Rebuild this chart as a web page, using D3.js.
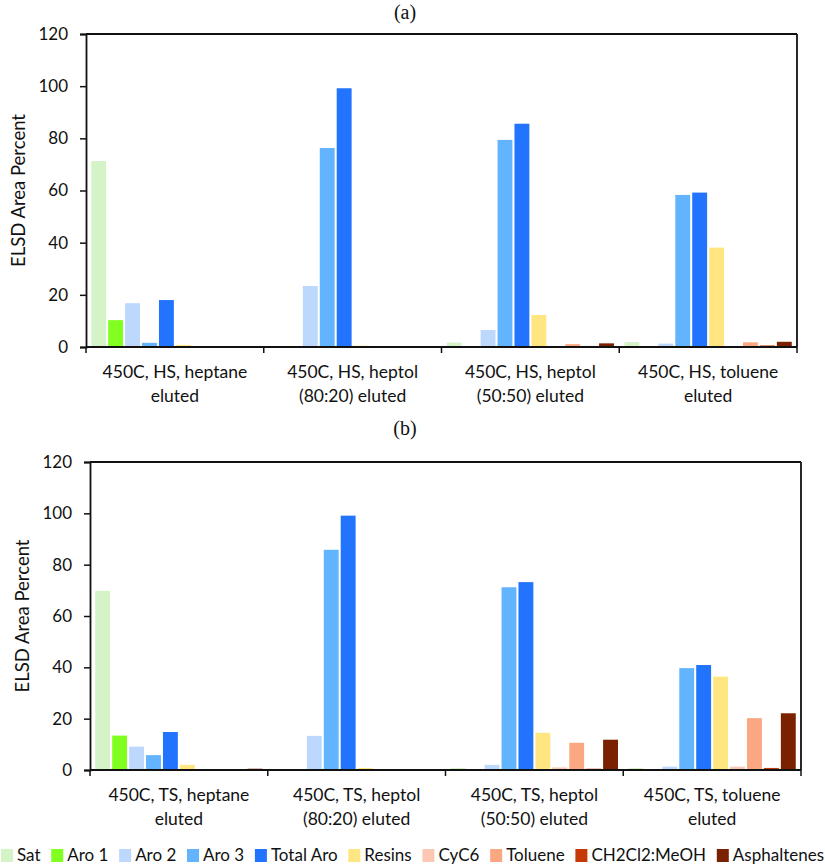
<!DOCTYPE html>
<html><head><meta charset="utf-8">
<script src="https://cdn.jsdelivr.net/npm/d3@7"></script>
<style>body{margin:0;background:#fff} svg{display:block}</style>
</head><body>
<svg id="c" width="825" height="866"></svg>
<script>
// ---- data ----
const seriesNames = ["Sat","Aro 1","Aro 2","Aro 3","Total Aro","Resins","CyC6","Toluene","CH2Cl2:MeOH","Asphaltenes"];
const seriesColors = ["#d4f4c8","#80ff20","#bcd8fc","#63b4ff","#2274ff","#ffe680","#fcc8b4","#fba882","#c43a04","#7a2200"];
const yTicks = [0,20,40,60,80,100,120];

const categoriesA = ["450C, HS, heptane|eluted","450C, HS, heptol|(80:20) eluted","450C, HS, heptol|(50:50) eluted","450C, HS, toluene|eluted"];
const aHeptane  = [71.3,10.3,16.8,1.6,18.0,0.8,0.2,0.3,0.2,0.3];
const aHeptol80 = [0.2,0,23.4,76.3,99.2,0.5,0.3,0,0,0.3];
const aHeptol50 = [1.7,0,6.5,79.4,85.6,12.3,0,1.1,0.4,1.4];
const aToluene  = [1.9,0,1.3,58.3,59.2,38.1,0,1.8,0.6,2.0];

const categoriesB = ["450C, TS, heptane|eluted","450C, TS, heptol|(80:20) eluted","450C, TS, heptol|(50:50) eluted","450C, TS, toluene|eluted"];
const bHeptane  = [69.8,13.4,9.1,5.8,14.8,2.0,0,0.2,0,0.5];
const bHeptol80 = [0.3,0,13.3,85.8,99.1,0.8,0,0,0,0.2];
const bHeptol50 = [0.8,0,2.0,71.2,73.2,14.5,1.0,10.6,0.5,11.8];
const bToluene  = [0.8,0,1.3,39.7,40.9,36.4,1.3,20.2,0.8,22.1];

const svg = d3.select("#c");
const FONT = "Lato, 'Open Sans', sans-serif";

function panel(cfg){
  const {left,right,top,bottom,cats,rows,title,titleY} = cfg;
  const g = svg.append("g");
  const x0 = d3.scaleBand().domain(cats).range([left,right]).paddingInner(0).paddingOuter(0);
  const x1 = d3.scaleBand().domain(seriesNames).range([0,x0.bandwidth()]).paddingInner(0.12).paddingOuter(0.31);
  const y = d3.scaleLinear().domain([0,120]).range([bottom,top]);

  cats.forEach((c,ci)=>{
    g.append("g").selectAll("rect").data(rows[ci]).join("rect")
      .attr("x",(d,i)=>x0(c)+x1(seriesNames[i]))
      .attr("width",x1.bandwidth())
      .attr("y",d=>y(d))
      .attr("height",d=>bottom-y(d))
      .attr("fill",(d,i)=>seriesColors[i]);
  });

  // frame top/right
  g.append("line").attr("x1",left).attr("x2",right).attr("y1",top).attr("y2",top).attr("stroke","#111").attr("stroke-width",1.8);
  g.append("line").attr("x1",right).attr("x2",right).attr("y1",top).attr("y2",bottom).attr("stroke","#111").attr("stroke-width",1.8);

  const ya = g.append("g").attr("transform",`translate(${left},0)`)
    .call(d3.axisLeft(y).tickValues(yTicks).tickSize(6).tickPadding(12));
  ya.select(".domain").attr("stroke","#111").attr("stroke-width",1.8);
  ya.selectAll(".tick line").attr("stroke","#111").attr("stroke-width",1.5);
  ya.selectAll("text").attr("font-family",FONT).attr("font-size",17).attr("fill","#111");

  // x axis line + ticks at group boundaries
  const xa = g.append("g");
  xa.append("line").attr("x1",left).attr("x2",right).attr("y1",bottom).attr("y2",bottom).attr("stroke","#111").attr("stroke-width",1.8);
  const bounds = cats.map(c=>x0(c)).concat([right]);
  xa.selectAll("line.t").data(bounds).join("line").attr("class","t")
    .attr("x1",d=>d).attr("x2",d=>d).attr("y1",bottom).attr("y2",bottom+6)
    .attr("stroke","#111").attr("stroke-width",1.5);
  cats.forEach(c=>{
    const lines = c.split("|");
    const t = xa.append("text").attr("x",x0(c)+x0.bandwidth()/2).attr("y",bottom+31)
      .attr("text-anchor","middle").attr("font-family",FONT).attr("font-size",17.5).attr("fill","#111");
    lines.forEach((l,i)=>t.append("tspan").attr("x",x0(c)+x0.bandwidth()/2).attr("dy",i?24:0).text(l));
  });

  // y title
  g.append("text").attr("transform",`translate(${left-61},${(top+bottom)/2}) rotate(-90)`)
    .attr("text-anchor","middle").attr("font-family",FONT).attr("font-size",18.5).attr("fill","#111")
    .text("ELSD Area Percent");

  // panel title
  svg.append("text").attr("x",405).attr("y",titleY).attr("text-anchor","middle")
    .attr("font-family","'Liberation Serif', 'Times New Roman', serif").attr("font-size",20).attr("fill","#111").text(title);
}

panel({left:86,right:797,top:34,bottom:347,cats:categoriesA,rows:[aHeptane,aHeptol80,aHeptol50,aToluene],title:"(a)",titleY:18.5});
panel({left:90,right:801,top:462,bottom:770,cats:categoriesB,rows:[bHeptane,bHeptol80,bHeptol50,bToluene],title:"(b)",titleY:435});

// legend
const lg = svg.append("g");
const items = seriesNames.map((n,i)=>{
  const it = lg.append("g");
  it.append("rect").attr("width",12).attr("height",13).attr("y",849).attr("fill",seriesColors[i]);
  const t = it.append("text").attr("x",16).attr("y",861).attr("font-family",FONT).attr("font-size",17).attr("fill","#111").text(n);
  return {it, w:16+t.node().getComputedTextLength()};
});
const totalW = d3.sum(items,d=>d.w);
const gap = (823-totalW)/(items.length-1);
let cx = 1;
items.forEach(d=>{ d.it.attr("transform",`translate(${cx},0)`); cx += d.w+gap; });
</script>
</body></html>
